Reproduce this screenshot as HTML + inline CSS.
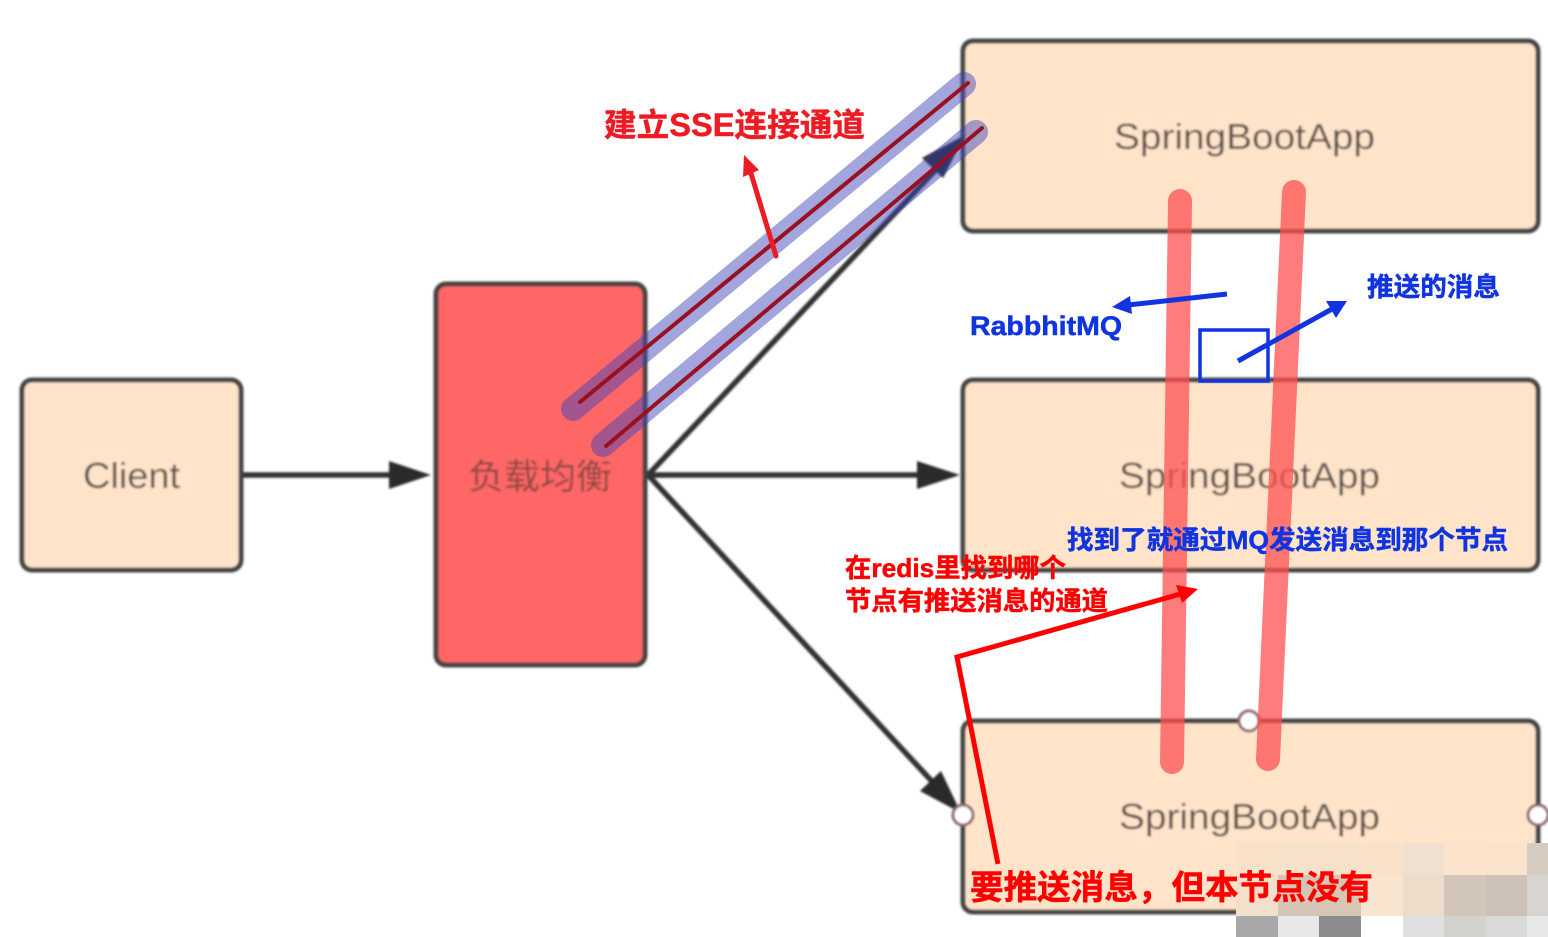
<!DOCTYPE html>
<html><head><meta charset="utf-8"><style>
html,body{margin:0;padding:0;background:#fff}
svg{display:block}
.cj{font-family:"Liberation Sans","Noto Sans CJK SC",sans-serif;font-weight:700}
.b{font-family:"Liberation Sans","Noto Sans CJK SC",sans-serif;font-size:36px;fill:#5a5048}
</style></head><body>
<svg width="1548" height="937" viewBox="0 0 1548 937" xmlns="http://www.w3.org/2000/svg">
<defs><filter id="bl" filterUnits="userSpaceOnUse" x="0" y="0" width="1548" height="937"><feGaussianBlur stdDeviation="1"/></filter></defs>
<rect width="1548" height="937" fill="#fff"/>
<g filter="url(#bl)">
<g stroke="#444" stroke-width="5" fill="#ffe4ca">
<rect x="22" y="380" width="219" height="190" rx="10"/>
<rect x="436" y="284" width="209" height="381" rx="10" fill="#ff6666"/>
<rect x="963" y="41" width="575" height="190" rx="10"/>
<rect x="963" y="380" width="575" height="190" rx="10"/>
<rect x="963" y="721" width="575" height="191" rx="10"/>
</g>
<g stroke="#333" stroke-width="5.5" fill="none">
<line x1="243" y1="475" x2="400" y2="475"/>
<line x1="648" y1="475" x2="930" y2="475"/>
<line x1="648" y1="475" x2="945" y2="160"/>
<line x1="648" y1="475" x2="940" y2="790"/>
</g>
<g fill="#2a2a2a">
<polygon points="431,475 389,461 389,489"/>
<polygon points="960,475 917,461 917,489"/>
<polygon points="965,135 943,178 922,158"/>
<polygon points="961,813 941,771 920,791"/>
</g>
<g class="b">
<text x="83" y="488" textLength="97" lengthAdjust="spacingAndGlyphs">Client</text>
<text x="468" y="489" textLength="144" lengthAdjust="spacingAndGlyphs" style="font-size:35px;fill:#8a4a44">负载均衡</text>
<text x="1114" y="149" textLength="261" lengthAdjust="spacingAndGlyphs">SpringBootApp</text>
<text x="1119" y="488" textLength="261" lengthAdjust="spacingAndGlyphs">SpringBootApp</text>
<text x="1119" y="829" textLength="261" lengthAdjust="spacingAndGlyphs">SpringBootApp</text>
</g>
<g fill="#fff" stroke="#8a6068" stroke-width="3">
<circle cx="1249" cy="721" r="10"/>
<circle cx="963" cy="815" r="10"/>
<circle cx="1538" cy="815" r="10"/>
</g>
</g>
<g stroke-linecap="round" fill="none">
<line x1="573" y1="409" x2="964" y2="84" stroke="#3d46b8" stroke-opacity=".48" stroke-width="24"/>
<line x1="603" y1="445" x2="976" y2="132" stroke="#3d46b8" stroke-opacity=".48" stroke-width="24"/>
<line x1="580" y1="402" x2="968" y2="83" stroke="#9a1020" stroke-width="4"/>
<line x1="606" y1="446" x2="982" y2="128" stroke="#9a1020" stroke-width="4"/>
<line x1="1180" y1="201" x2="1172" y2="762" stroke="#ff5050" stroke-opacity=".75" stroke-width="24"/>
<line x1="1294" y1="192" x2="1268" y2="759" stroke="#ff5050" stroke-opacity=".75" stroke-width="24"/>
<line x1="776" y1="256" x2="750" y2="170" stroke="#ed1c24" stroke-width="5"/>
</g>
<polygon points="744,155 759,170 743,177" fill="#ed1c24"/>
<g stroke="#1034e0" stroke-width="5" fill="none">
<rect x="1200" y="330" width="68" height="51" stroke-width="3.5"/>
<line x1="1227" y1="294" x2="1128" y2="305"/>
<line x1="1238" y1="361" x2="1332" y2="309"/>
</g>
<polygon points="1112,307 1130,296 1132,314" fill="#1034e0"/>
<polygon points="1347,301 1326,301 1336,318" fill="#1034e0"/>
<polyline points="1184,593 957,657 998,864" fill="none" stroke="#ff0000" stroke-width="5"/>
<polygon points="1198,589 1176,585 1182,603" fill="#ff0000"/>
<g>
<rect x="1236" y="843" width="42" height="32" fill="#fae2ca"/><rect x="1278" y="843" width="41" height="32" fill="#f6e2cb"/><rect x="1319" y="843" width="42" height="32" fill="#f6e2cb"/><rect x="1361" y="843" width="42" height="32" fill="#fae2ca"/><rect x="1403" y="843" width="41" height="32" fill="#f0e0d0"/><rect x="1444" y="843" width="42" height="32" fill="#fde3cb"/><rect x="1486" y="843" width="41" height="32" fill="#fbe2ca"/><rect x="1527" y="843" width="21" height="32" fill="#d6ccc0"/>
<rect x="1236" y="875" width="42" height="41" fill="#f2e0cd"/><rect x="1278" y="875" width="41" height="41" fill="#d5c5b6"/><rect x="1319" y="875" width="42" height="41" fill="#d8c6b5"/><rect x="1361" y="875" width="42" height="41" fill="#f8e4cf"/><rect x="1403" y="875" width="41" height="41" fill="#eedccb"/><rect x="1444" y="875" width="42" height="41" fill="#d2c6ba"/><rect x="1486" y="875" width="41" height="41" fill="#cdc2b8"/><rect x="1527" y="875" width="21" height="41" fill="#d8d5d0"/>
<rect x="1236" y="916" width="42" height="21" fill="#a8a8a8"/><rect x="1278" y="916" width="41" height="21" fill="#e8e8e8"/><rect x="1319" y="916" width="42" height="21" fill="#8c8c8c"/><rect x="1361" y="916" width="42" height="21" fill="#fff"/><rect x="1403" y="916" width="41" height="21" fill="#e0e0e0"/><rect x="1444" y="916" width="42" height="21" fill="#d4d2cf"/><rect x="1486" y="916" width="41" height="21" fill="#dadada"/><rect x="1527" y="916" width="21" height="21" fill="#e8e8e8"/>
</g>
<g class="cj" stroke-width=".5">
<text x="604" y="136" font-size="32" fill="#ed1c24" stroke="#ed1c24" textLength="261" lengthAdjust="spacingAndGlyphs">建立SSE连接通道</text>
<text x="970" y="335" font-size="27" fill="#1034e0" stroke="#1034e0" textLength="152" lengthAdjust="spacingAndGlyphs">RabbhitMQ</text>
<text x="1367" y="296" font-size="26" fill="#1034e0" stroke="#1034e0" textLength="133" lengthAdjust="spacingAndGlyphs">推送的消息</text>
<text x="1067" y="549" font-size="26" fill="#1034e0" stroke="#1034e0" textLength="441" lengthAdjust="spacingAndGlyphs">找到了就通过MQ发送消息到那个节点</text>
<text x="845" y="577" font-size="26" fill="#ff0000" stroke="#ff0000" textLength="221" lengthAdjust="spacingAndGlyphs">在redis里找到哪个</text>
<text x="845" y="610" font-size="26" fill="#ff0000" stroke="#ff0000" textLength="263" lengthAdjust="spacingAndGlyphs">节点有推送消息的通道</text>
<text x="970" y="899" font-size="33.5" fill="#ff0000" stroke="#ff0000" textLength="403" lengthAdjust="spacingAndGlyphs">要推送消息，但本节点没有</text>
</g>
</svg>
</body></html>
